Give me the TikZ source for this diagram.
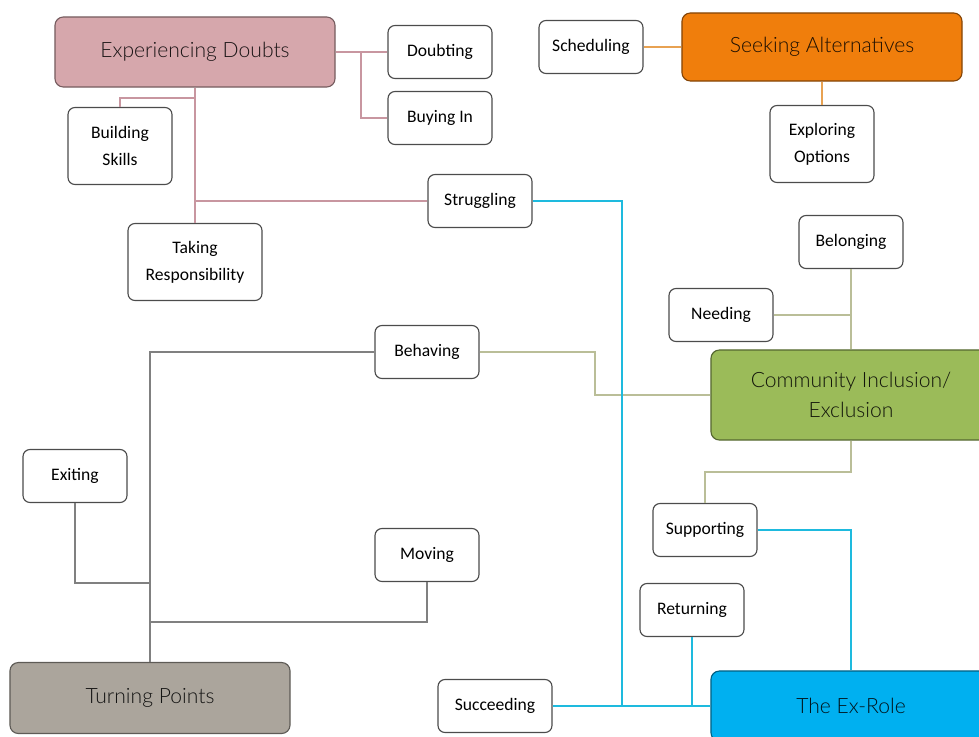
\documentclass[tikz,border=0pt]{standalone}
\usepackage{fontspec}
\setmainfont{Carlito}
\newfontfamily\headfont{Lato}[UprightFont=* Light]
\usepackage{tikz}
\usetikzlibrary{positioning}
\definecolor{DoubtPink}{RGB}{214,167,172}
\definecolor{SeekOrange}{RGB}{240,126,12}
\definecolor{InclGreen}{RGB}{155,187,89}
\definecolor{TurnGray}{RGB}{171,165,156}
\definecolor{ExCyan}{RGB}{0,176,240}
\definecolor{DoubtLine}{RGB}{200,150,160}
\definecolor{SeekLine}{RGB}{232,162,82}
\definecolor{InclLine}{RGB}{186,190,152}
\definecolor{TurnLine}{RGB}{128,128,128}
\definecolor{ExLine}{RGB}{30,186,222}

\begin{document}
\begin{tikzpicture}[x=0.025cm, y=-0.025cm,
  topic/.style={draw=#1!55!black, fill=#1, text=#1!12!black, line width=0.8pt, rounded corners=6pt,
                align=center, font=\headfont\fontsize{15}{21}\selectfont, inner sep=2pt,
                minimum width=7cm, minimum height=1.75cm},
  code/.style={draw=black!70, fill=white, line width=0.8pt, rounded corners=5pt,
               align=center, font=\fontsize{12.5}{19}\selectfont, inner sep=2pt,
               minimum width=2.6cm, minimum height=1.325cm},
  link/.style={draw=#1, line width=0.8pt}]
  \useasboundingbox (0,0) rectangle (979,736);
  % main themes
  \node[topic=DoubtPink] (doubts) at (195,52) {Experiencing Doubts};
  \node[topic=SeekOrange, minimum height=1.7cm] (seeking) at (822,47) {Seeking Alternatives};
  \node[topic=InclGreen, minimum height=2.25cm] (inclusion) at (851,395) {Community Inclusion/\\Exclusion};
  \node[topic=TurnGray, minimum height=1.775cm] (turning) at (150,698) {Turning Points};
  \node[topic=ExCyan] (exrole) at (851,706) {The Ex-Role};
  % codes
  \node[code] (doubting) at (440,52) {Doubting};
  \node[code] (buying) at (440,118) {Buying In};
  \node[code, minimum height=1.925cm] (skills) at (120,146) {Building\\Skills};
  \node[code, minimum width=3.35cm, minimum height=1.925cm] (resp) at (195,262) {Taking\\Responsibility};
  \node[code] (struggling) at (480,201) {Struggling};
  \node[code] (scheduling) at (591,47) {Scheduling};
  \node[code, minimum height=1.925cm] (options) at (822,144) {Exploring\\Options};
  \node[code] (belonging) at (851,242) {Belonging};
  \node[code] (needing) at (721,315) {Needing};
  \node[code] (behaving) at (427,352) {Behaving};
  \node[code] (exiting) at (75,476) {Exiting};
  \node[code] (moving) at (427,555) {Moving};
  \node[code] (supporting) at (705,530) {Supporting};
  \node[code] (returning) at (692,610) {Returning};
  \node[code, minimum width=2.85cm] (succeeding) at (495,706) {Succeeding};
  % junctions
  \coordinate (dj) at (361,52);
  \coordinate (ds) at (195,98);
  \coordinate (dt) at (195,201);
  \coordinate (bj) at (595,395);
  \coordinate (ij) at (851,472);
  \coordinate (te) at (150,583);
  \coordinate (tm) at (150,622);
  \coordinate (xj) at (622,706);
  % Experiencing Doubts
  \draw[link=DoubtLine] (doubts.east) -- (doubting.west);
  \draw[link=DoubtLine] (dj) |- (buying.west);
  \draw[link=DoubtLine] (doubts.south) -- (resp.north);
  \draw[link=DoubtLine] (ds) -| (skills.north);
  \draw[link=DoubtLine] (dt) -- (struggling.west);
  % Seeking Alternatives
  \draw[link=SeekLine] (scheduling.east) -- (seeking.west);
  \draw[link=SeekLine] (seeking.south) -- (options.north);
  % Community Inclusion/Exclusion
  \draw[link=InclLine] (belonging.south) -- (inclusion.north);
  \draw[link=InclLine] (needing.east) -- (needing.east -| belonging.south);
  \draw[link=InclLine] (behaving.east) -| (bj) -- (inclusion.west);
  \draw[link=InclLine] (inclusion.south) -- (ij) -| (supporting.north);
  % Turning Points
  \draw[link=TurnLine] (turning.north) |- (behaving.west);
  \draw[link=TurnLine] (exiting.south) |- (te);
  \draw[link=TurnLine] (moving.south) |- (tm);
  % The Ex-Role
  \draw[link=ExLine] (struggling.east) -| (xj);
  \draw[link=ExLine] (succeeding.east) -- (exrole.west);
  \draw[link=ExLine] (returning.south) -- (returning.south |- exrole.west);
  \draw[link=ExLine] (supporting.east) -| (exrole.north);
\end{tikzpicture}
\end{document}
